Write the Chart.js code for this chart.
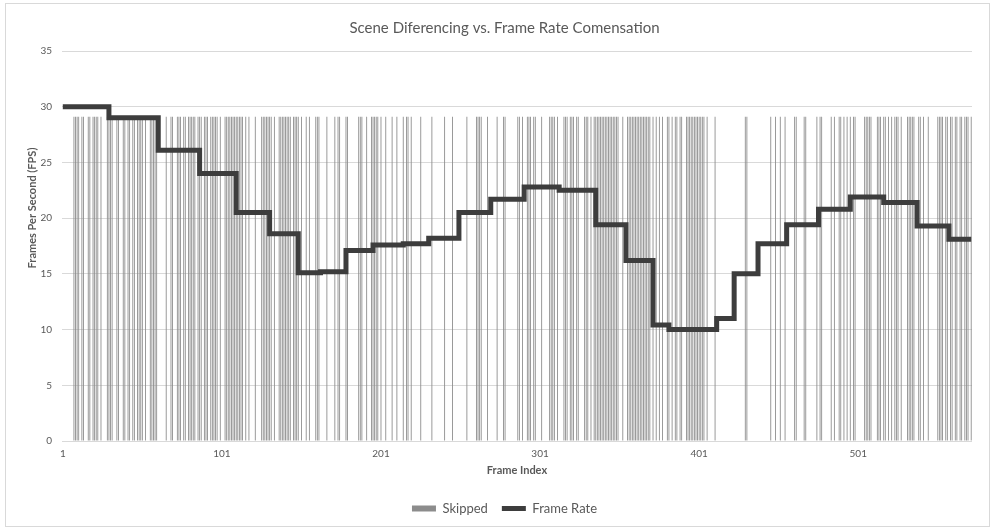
<!DOCTYPE html>
<html>
<head>
<meta charset="utf-8">
<title>Scene Diferencing vs. Frame Rate Comensation</title>
<script src="https://cdn.jsdelivr.net/npm/chart.js@4.4.1/dist/chart.umd.min.js"></script>
<style>
  html, body { margin: 0; padding: 0; background: #fff; }
  #wrap { position: relative; width: 995px; height: 529px; }
  #frame { position: absolute; left: 5px; top: 3px; width: 983px; height: 522px; border: 1px solid #d9d9d9; }
  #chart { position: absolute; left: 0; top: 0; }
</style>
</head>
<body>
<div id="wrap">
  <div id="frame"></div>
  <canvas id="chart" width="995" height="529"></canvas>
</div>
<script>
// frames in the clip
const FRAME_COUNT = 572;

// frames dropped by scene differencing (drawn as bars at SKIP_FPS)
const SKIP_FPS = 29.1;
const skippedFrames = [
  8, 9, 10, 11, 13, 14, 17, 18, 20, 21, 22, 23, 25, 29, 30, 31, 32, 35, 36, 39, 40, 42, 43, 45, 46,
  48, 49, 50, 51, 53, 56, 57, 58, 59, 60, 66, 69, 70, 73, 74, 75, 77, 78, 80, 81, 82, 83, 84, 86, 87,
  88, 90, 91, 92, 94, 95, 96, 97, 98, 100, 103, 104, 105, 106, 107, 108, 109, 110, 111, 112, 113, 114,
  116, 118, 122, 126, 127, 128, 129, 130, 131, 132, 134, 137, 138, 139, 140, 141, 142, 143, 144, 146,
  147, 148, 149, 151, 154, 156, 160, 161, 162, 167, 172, 174, 175, 179, 180, 187, 188,
  189, 192, 195, 196, 197, 198, 199, 201, 204, 208, 211, 215, 217, 218, 220, 226, 233, 241, 246, 255,
  261, 262, 263, 264, 268, 274, 278, 279, 287, 288, 290, 293, 294, 295, 297, 298, 302, 307, 308, 309,
  310, 312, 316, 317, 318, 320, 321, 322, 324, 325, 329, 330, 331, 333, 335, 336, 337, 338, 339, 340,
  341, 342, 343, 344, 345, 346, 347, 348, 349, 350, 353, 356, 357, 358, 359, 360, 361, 362, 363, 364,
  365, 366, 367, 368, 369, 370, 372, 374, 376, 378, 381, 382, 384,
  386, 387, 389, 390, 393, 394, 395, 396, 397, 398, 399, 400, 401, 402, 403, 404, 406, 411, 430, 431,
  446, 449, 452, 455, 461, 462, 467, 468, 475, 477, 478, 484,
  486, 489, 490, 492, 494, 496, 498, 499, 505, 506, 507, 508, 509, 513, 514, 515, 517, 518, 520, 522,
  524, 525, 526, 528, 532, 533, 534, 535, 536, 539, 540, 542, 545, 551, 552, 553, 554, 556, 557, 559,
  560, 562, 563, 565, 566, 568, 569, 570, 572
];

// frame rate steps: first frame of each step and its fps
const stepFrames = [1, 30, 61, 87, 110, 131, 149, 163, 179, 196, 215, 231, 250, 270, 291, 313, 336,
  355, 372, 382, 412, 423, 438, 456, 476, 496, 517, 538, 558, 572];
const stepFps = [30, 29, 26.1, 24, 20.5, 18.6, 15.1, 15.2, 17.1, 17.6, 17.7, 18.2, 20.5, 21.7, 22.8,
  22.5, 19.4, 16.2, 10.4, 10.0, 11.0, 15.0, 17.7, 19.4, 20.8, 21.9, 21.4, 19.3, 18.1, 18.1];

const frameLabels = [];
for (let i = 1; i <= FRAME_COUNT; i++) frameLabels.push(String(i));

const skipSet = new Set(skippedFrames);
const skippedData = frameLabels.map(l => skipSet.has(+l) ? SKIP_FPS : null);
const rateData = stepFrames.map((f, i) => ({ x: String(f), y: stepFps[i] }));

const TEXT = '#595959';
const FONT = 'Lato, "Open Sans", sans-serif';

// y axis title sits a little above the middle of the plot
const yTitlePlugin = {
  id: 'yTitle',
  afterDraw(chart) {
    const ctx = chart.ctx;
    ctx.save();
    ctx.translate(32, 208);
    ctx.rotate(-Math.PI / 2);
    ctx.font = 'bold 11px ' + FONT;
    ctx.fillStyle = TEXT;
    ctx.textAlign = 'center';
    ctx.textBaseline = 'middle';
    ctx.fillText('Frames Per Second (FPS)', 0, 0);
    ctx.restore();
  }
};

new Chart(document.getElementById('chart'), {
  type: 'bar',
  data: {
    labels: frameLabels,
    datasets: [
      {
        label: 'Skipped',
        data: skippedData,
        backgroundColor: '#8c8c8c',
        borderWidth: 0,
        barPercentage: 0.55,
        categoryPercentage: 1,
        pointStyle: 'rect',
        order: 2
      },
      {
        type: 'line',
        label: 'Frame Rate',
        data: rateData,
        borderColor: '#3d3d3d',
        backgroundColor: '#3d3d3d',
        borderWidth: 5,
        stepped: true,
        pointRadius: 0,
        borderJoinStyle: 'miter',
        pointStyle: 'line',
        fill: false,
        order: 1
      }
    ]
  },
  options: {
    responsive: false,
    animation: false,
    layout: { padding: { left: 20, right: 6, top: 0, bottom: 4 } },
    plugins: {
      title: {
        display: true,
        text: 'Scene Diferencing vs. Frame Rate Comensation',
        color: TEXT,
        font: { family: FONT, size: 15, weight: 'normal' },
        padding: { top: 19, bottom: 14 }
      },
      legend: {
        position: 'bottom',
        labels: {
          color: TEXT,
          font: { family: FONT, size: 13 },
          usePointStyle: true,
          pointStyleWidth: 24,
          boxWidth: 24,
          boxHeight: 6,
          padding: 14,
          sort: (a, b) => a.datasetIndex - b.datasetIndex
        }
      },
      tooltip: { enabled: false }
    },
    scales: {
      x: {
        grid: { display: false, drawTicks: false },
        border: { display: false },
        ticks: {
          color: TEXT,
          font: { family: FONT, size: 10 },
          autoSkip: false,
          maxRotation: 0,
          padding: 7,
          callback: function (value, index) {
            return index % 100 === 0 ? this.getLabelForValue(value) : '';
          }
        },
        title: {
          display: true,
          text: 'Frame Index',
          color: TEXT,
          font: { family: FONT, size: 11, weight: 'bold' },
          padding: { top: 0, bottom: 11 }
        },
        afterFit: (scale) => { scale.height = 47; }
      },
      y: {
        min: 0,
        max: 35,
        grid: { color: '#d9d9d9', lineWidth: 1, drawTicks: false },
        border: { display: false },
        ticks: {
          stepSize: 5,
          color: TEXT,
          font: { family: FONT, size: 10 },
          padding: 10
        },
        afterFit: (scale) => { scale.width = 42; }
      },
      // empty right-hand margin so the plot ends where the frame data ends
      yRight: {
        position: 'right',
        grid: { display: false, drawTicks: false },
        border: { display: false },
        ticks: { display: false },
        afterFit: (scale) => { scale.width = 17; }
      }
    }
  },
  plugins: [yTitlePlugin]
});
</script>
</body>
</html>
